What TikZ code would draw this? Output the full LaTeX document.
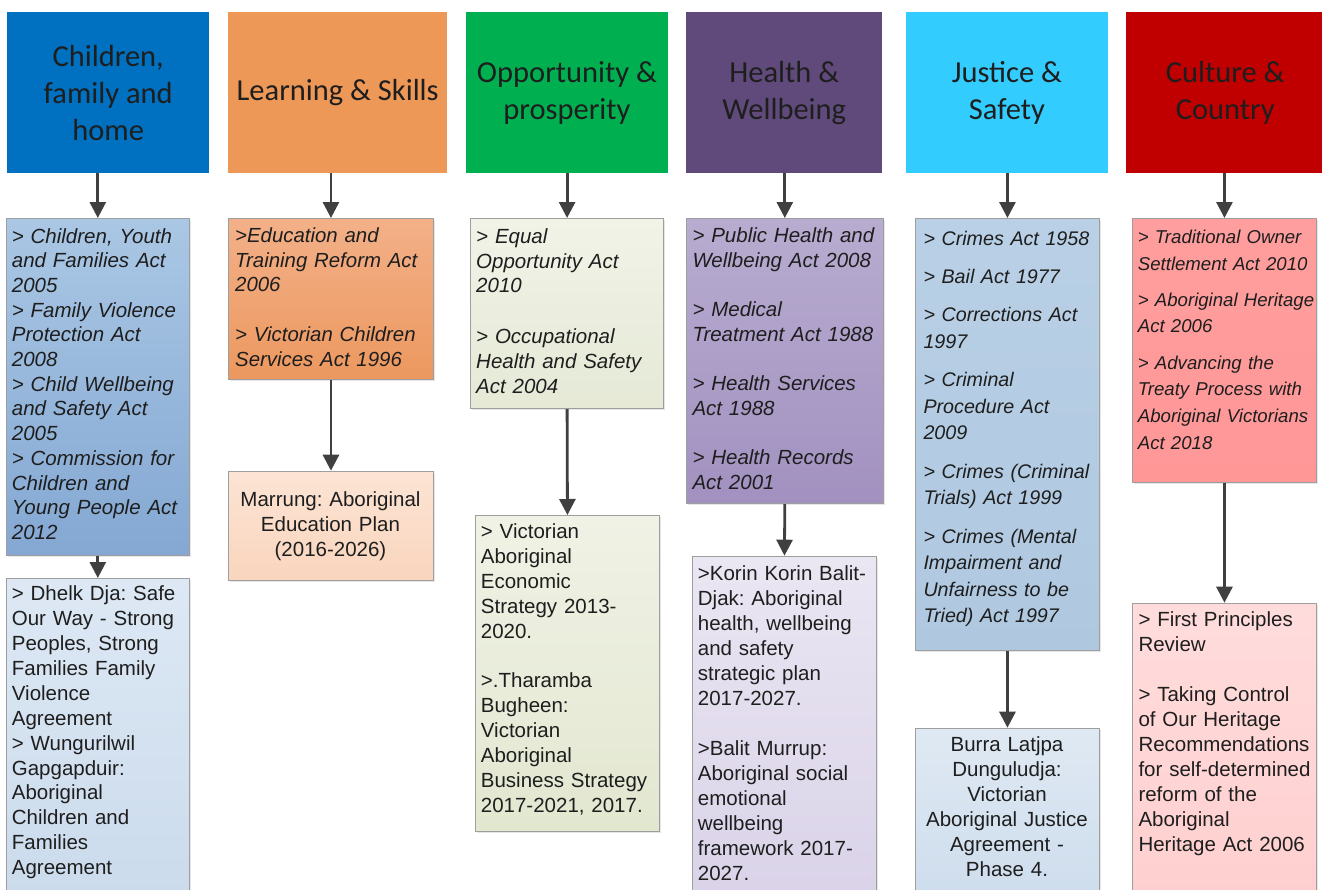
\documentclass[tikz,border=0pt]{standalone}
\usepackage{fontspec}
\setmainfont{Liberation Sans}
\newfontfamily\hdfont{Carlito}
\usetikzlibrary{arrows.meta,shadows}
\frenchspacing

% theme colours
\definecolor{hdA}{HTML}{0070C0}
\definecolor{hdB}{HTML}{EE9857}
\definecolor{hdC}{HTML}{00B050}
\definecolor{hdD}{HTML}{604A7B}
\definecolor{hdE}{HTML}{33CCFF}
\definecolor{hdF}{HTML}{C00000}
\definecolor{inktxt}{HTML}{1E1E1E}
\definecolor{arrowgray}{HTML}{404040}
% panel fills (top / bottom of each gradient)
\definecolor{aAt}{HTML}{AAC7E4}\definecolor{aAb}{HTML}{84A8D3}
\definecolor{aBt}{HTML}{F3B088}\definecolor{aBb}{HTML}{EC985F}
\definecolor{aCt}{HTML}{F1F3E7}\definecolor{aCb}{HTML}{E5E9D6}
\definecolor{aDt}{HTML}{B8ACD0}\definecolor{aDb}{HTML}{A291C0}
\definecolor{aEt}{HTML}{B9D0E6}\definecolor{aEb}{HTML}{AFC8E0}
\definecolor{aFt}{HTML}{FF9E9E}\definecolor{aFb}{HTML}{FF9797}
\definecolor{bAt}{HTML}{DDE8F4}\definecolor{bAb}{HTML}{CBDBEC}
\definecolor{bBt}{HTML}{FCE4D4}\definecolor{bBb}{HTML}{F9D5BD}
\definecolor{bCt}{HTML}{F0F2E5}\definecolor{bCb}{HTML}{E2E7D0}
\definecolor{bDt}{HTML}{EAE6F2}\definecolor{bDb}{HTML}{DAD3E9}
\definecolor{bEt}{HTML}{DFE9F3}\definecolor{bEb}{HTML}{CEDDED}
\definecolor{bFt}{HTML}{FFDCDC}\definecolor{bFb}{HTML}{FFCFCF}

\tikzset{
  head/.style={inner sep=0pt, align=center, anchor=north west,
    font=\hdfont\fontsize{30.5}{37}\selectfont, text=inktxt},
  panel/.style={draw=black!38, line width=0.9pt, inner sep=0pt, anchor=north west,
    drop shadow={shadow xshift=1.6pt, shadow yshift=-1.6pt, opacity=0.2}},
  grad/.style={top color=#1t, bottom color=#1b},
  body/.style={inner sep=0pt, anchor=base west, text width=200pt, align=left,
    text=inktxt, font=\fontsize{20.5}{24.8}\selectfont},
  bodyc/.style={body, anchor=base, text width=200pt, align=center},
  link/.style={draw=arrowgray, line width=2.8pt,
    -{Triangle[width=16pt,length=16pt]}},
}

\begin{document}
\begin{tikzpicture}[x=1pt,y=-1pt]
\useasboundingbox (0,0) rectangle (1322,889);
\begin{scope}
\clip (0,0) rectangle (1322,889);

% ---------- theme headers ----------
\node[head, fill=hdA, minimum width=202pt, minimum height=161pt] (h1) at (7,12)
  {Children,\\family and\\home};
\node[head, fill=hdB, minimum width=219pt, minimum height=161pt] (h2) at (228,12)
  {Learning \& Skills};
\node[head, fill=hdC, minimum width=201.5pt, minimum height=161pt] (h3) at (466,12)
  {Opportunity \&\\prosperity};
\node[head, fill=hdD, minimum width=196pt, minimum height=161pt] (h4) at (686,12)
  {Health \&\\Wellbeing};
\node[head, fill=hdE, minimum width=201.5pt, minimum height=161pt] (h5) at (906,12)
  {Justice \&\\Safety};
\node[head, fill=hdF, minimum width=198pt, minimum height=161pt] (h6) at (1126,12)
  {Culture \&\\Country};

% ---------- legislation panels ----------
\node[panel, grad=aA, minimum width=183.3pt, minimum height=337pt] (a1) at (5.7,218) {};
\node[panel, grad=aB, minimum width=205.6pt, minimum height=161pt] (a2) at (227.7,218) {};
\node[panel, grad=aC, minimum width=193.3pt, minimum height=190.3pt] (a3) at (470,218) {};
\node[panel, grad=aD, minimum width=196.7pt, minimum height=285.3pt] (a4) at (686,218) {};
\node[panel, grad=aE, minimum width=184pt, minimum height=432pt] (a5) at (915,218) {};
\node[panel, grad=aF, minimum width=183.4pt, minimum height=263.7pt] (a6) at (1132.3,218) {};

% ---------- strategy / agreement panels ----------
\node[panel, grad=bA, minimum width=183.3pt, minimum height=317pt] (b1) at (5.7,578) {};
\node[panel, grad=bB, minimum width=205.6pt, minimum height=109.3pt] (b2) at (227.7,470.7) {};
\node[panel, grad=bC, minimum width=184pt, minimum height=315.7pt] (b3) at (475,515) {};
\node[panel, grad=bD, minimum width=183.4pt, minimum height=339.3pt] (b4) at (692.3,555.7) {};
\node[panel, grad=bE, minimum width=184pt, minimum height=167.3pt] (b5) at (915,727.7) {};
\node[panel, grad=bF, minimum width=183.4pt, minimum height=292.3pt] (b6) at (1132.3,602.7) {};

% ---------- connectors ----------
\foreach \c in {1,...,6} {
  \draw[link] (a\c.north |- h\c.south) -- (a\c.north);
  \draw[link] (a\c.south) -- (b\c.north);
}

% ---------- panel texts ----------
\node[body, font=\itshape\fontsize{20.5}{24.7}\selectfont] (ta1) at (11.7,243)
  {> Children, Youth\\and Families Act\\2005\\> Family Violence\\Protection Act\\2008\\> Child Wellbeing\\and Safety Act\\2005\\> Commission for\\Children and\\Young People Act\\2012};
\node[body, font=\fontsize{20.5}{24.9}\selectfont] (tb1) at (11.7,600.7)
  {> Dhelk Dja: Safe\\Our Way - Strong\\Peoples, Strong\\Families Family\\Violence\\Agreement\\> Wungurilwil\\Gapgapduir:\\Aboriginal\\Children and\\Families\\Agreement};

\node[body, font=\itshape\fontsize{20.4}{24.6}\selectfont] (ta2) at (235,242.7)
  {>Education and\\Training Reform Act\\2006\\[25pt]> Victorian Children\\Services Act 1996};
\node[bodyc, font=\fontsize{20.5}{25}\selectfont] (tb2) at (330.5,506.7)
  {Marrung: Aboriginal\\Education Plan\\(2016-2026)};

\node[body, font=\itshape\fontsize{20.5}{24.8}\selectfont] (ta3) at (476,243.3)
  {> Equal\\Opportunity Act\\2010\\[26pt]> Occupational\\Health and Safety\\Act 2004};
\node[body, font=\fontsize{20.5}{25}\selectfont] (tb3) at (480.7,538.3)
  {> Victorian\\Aboriginal\\Economic\\Strategy 2013-\\2020.\\[24pt]>.Tharamba\\Bugheen:\\Victorian\\Aboriginal\\Business Strategy\\2017-2021, 2017.};

\node[body, font=\itshape\fontsize{20.5}{24.8}\selectfont] (ta4) at (692.3,242.7)
  {> Public Health and\\Wellbeing Act 2008\\[24.4pt]> Medical\\Treatment Act 1988\\[24.4pt]> Health Services\\Act 1988\\[24.4pt]> Health Records\\Act 2001};
\node[body, font=\fontsize{20.5}{25}\selectfont] (tb4) at (697.7,580)
  {>Korin Korin Balit-\\Djak: Aboriginal\\health, wellbeing\\and safety\\strategic plan\\2017-2027.\\[25pt]>Balit Murrup:\\Aboriginal social\\emotional\\wellbeing\\framework 2017-\\2027.};

\node[body, font=\itshape\fontsize{19.7}{26.5}\selectfont] (ta5) at (923.3,245)
  {> Crimes Act 1958\\[11.9pt]> Bail Act 1977\\[11.9pt]> Corrections Act\\1997\\[11.9pt]> Criminal\\Procedure Act\\2009\\[11.9pt]> Crimes (Criminal\\Trials) Act 1999\\[11.9pt]> Crimes (Mental\\Impairment and\\Unfairness to be\\Tried) Act 1997};
\node[bodyc, font=\fontsize{20.5}{25}\selectfont] (tb5) at (1007,751.7)
  {Burra Latjpa\\Dunguludja:\\Victorian\\Aboriginal Justice\\Agreement -\\Phase 4.};

\node[body, font=\itshape\fontsize{18.6}{26.7}\selectfont] (ta6) at (1137.7,243.3)
  {> Traditional Owner\\Settlement Act 2010\\[9.5pt]> Aboriginal Heritage\\Act 2006\\[9.5pt]> Advancing the\\Treaty Process with\\Aboriginal Victorians\\Act 2018};
\node[body, font=\fontsize{20.5}{25}\selectfont] (tb6) at (1138.3,626.7)
  {> First Principles\\Review\\[25pt]> Taking Control\\of Our Heritage\\Recommendations\\for self-determined\\reform of the\\Aboriginal\\Heritage Act 2006};
\end{scope}
\end{tikzpicture}
\end{document}
